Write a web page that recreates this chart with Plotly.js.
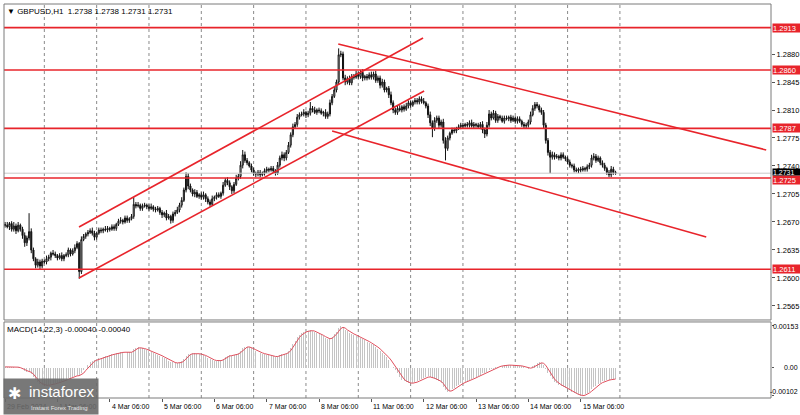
<!DOCTYPE html>
<html><head><meta charset="utf-8">
<script src="https://cdn.plot.ly/plotly-3.0.1.min.js"></script>
<style>html,body{margin:0;padding:0;background:#fff}#chart{width:800px;height:415px}</style>
</head><body><div id="chart"></div>
<script>
// Price data: closes in pips above 1.2600, hourly bars from 29 Feb 06:00
const BASE = 1.26;
const closePips = [
66,64,68,61,65,59,66,61,53,44,
50,58,35,24,16,20,15,21,20,24,
26,31,30,28,25,28,24,28,29,35,
30,34,38,43,8,48,52,55,57,59,
56,51,56,60,59,61,60,62,61,64,
62,67,71,72,70,75,72,74,77,92,
90,91,87,90,91,89,87,89,86,85,
87,82,79,81,75,77,72,80,82,85,
91,97,110,127,115,110,105,107,102,104,
101,104,99,95,92,99,101,104,102,106,
116,122,119,114,109,117,125,127,141,154,
147,144,140,135,131,130,132,129,131,134,
136,135,137,134,131,141,150,154,150,157,
166,179,189,192,201,204,205,207,204,206,
212,210,207,210,209,206,207,202,205,219,
227,235,245,279,280,250,245,249,244,252,
251,255,252,257,250,252,250,254,251,255,
247,250,241,245,235,237,229,219,210,207,
212,210,214,211,215,219,216,220,222,220,
224,221,219,215,204,194,187,197,200,191,
195,172,162,175,181,185,184,187,189,191,
190,192,191,194,190,192,191,189,192,185,
180,191,205,200,206,197,202,200,196,200,
199,201,197,200,196,199,196,192,190,191,
195,204,212,217,215,210,207,191,172,157,
151,154,151,152,150,154,151,149,145,141,
140,135,134,136,135,137,136,139,141,150,
152,147,150,144,141,137,132,129,136,132,
131];
const firstOpenPips = 67;
const hiWick = [
3,4,2,3,5,3,4,2,3,4, 3,23,4,3,2,4,3,3,2,4, 3,2,4,3,2,3,4,2,3,3, 2,3,4,3,2,4,3,2,3,3,
4,3,2,3,3,2,4,3,2,3, 3,2,3,4,2,3,3,2,3,9, 3,4,2,3,3,2,3,4,2,3, 3,2,3,2,4,3,2,3,3,4,
3,4,3,5,4,3,2,4,3,2, 3,4,2,3,3,4,2,3,3,2, 4,3,4,3,2,3,4,3,5,6, 4,3,2,3,3,2,3,3,2,3,
3,2,3,3,2,4,3,4,3,3, 4,3,4,3,4,3,3,4,2,3, 8,3,4,2,3,3,2,4,3,4, 3,4,3,8,4,3,4,3,4,3,
3,4,3,3,4,2,3,3,4,3, 4,3,3,4,3,2,3,4,3,3, 3,4,2,3,4,3,3,2,3,3, 3,3,4,2,3,4,3,4,3,3,
3,4,4,3,2,3,3,2,3,3, 3,2,3,3,4,3,2,3,3,4, 3,4,5,3,4,3,3,2,3,3, 3,2,3,3,2,3,3,2,3,3,
3,4,4,3,3,2,3,3,3,3, 3,4,3,3,2,3,3,2,3,3, 2,3,3,2,3,3,2,3,3,4, 4,3,3,2,3,3,2,3,4,3,
2];
const loWick = [
3,2,4,3,3,4,2,3,4,5, 4,3,4,3,4,3,4,3,2,3, 3,4,2,3,3,2,3,3,2,3, 3,2,3,2,9,3,2,3,3,2,
3,4,3,2,3,3,2,3,3,2, 3,3,2,3,3,2,3,3,2,3, 3,2,3,3,2,3,3,2,3,3, 2,3,4,3,3,2,4,3,3,2,
3,3,2,3,4,3,3,4,2,3, 3,3,4,3,3,2,3,3,2,3, 3,2,3,4,4,3,2,3,3,4, 3,3,2,3,3,4,3,3,2,3,
3,3,2,3,3,2,3,3,4,3, 2,3,3,2,3,3,2,3,4,3, 3,3,2,3,3,2,4,3,3,3, 3,2,3,3,3,3,4,3,3,3,
3,2,3,3,4,3,3,2,3,3, 3,3,4,3,3,3,4,3,4,3, 3,2,3,3,2,3,3,2,3,3, 3,3,2,3,4,4,11,3,3,4,
3,4,15,3,3,2,3,3,2,3, 3,2,3,3,2,3,3,2,3,4, 5,3,3,3,2,3,3,3,2,3, 2,3,3,2,3,3,2,3,3,3,
3,3,2,3,3,3,3,4,4,4, 20,3,3,2,3,3,2,3,3,3, 3,3,2,3,3,2,3,3,3,3, 3,3,2,3,3,3,3,3,3,3,
2];
// MACD main (histogram), in units of 0.00001
const macdMain = [
4,4,5,3,4,2,3,-1,-5,-11,
-13,-12,-22,-33,-45,-52,-58,-61,-63,-64,
-62,-60,-58,-56,-54,-51,-48,-45,-42,-37,
-35,-32,-29,-25,-30,-18,-9,0,10,20,
26,28,31,35,38,41,43,45,47,50,
52,54,56,57,57,58,57,57,58,68,
73,75,73,71,68,65,62,60,56,52,
49,45,40,36,31,27,22,20,18,17,
19,24,33,45,50,52,53,53,52,51,
49,46,42,37,32,29,27,26,26,28,
34,41,44,46,45,47,50,55,63,73,
77,78,75,71,66,62,58,55,52,50,
48,46,44,42,40,43,48,51,52,53,
62,74,88,100,112,121,127,131,134,136,
137,135,131,127,123,119,115,108,104,107,
114,122,132,146,153,145,138,133,128,124,
120,117,113,110,106,101,96,92,87,82,
76,70,63,55,47,39,30,18,5,-8,
-20,-32,-42,-48,-52,-55,-56,-55,-52,-48,
-44,-40,-36,-33,-31,-34,-38,-40,-44,-48,
-54,-68,-82,-87,-84,-78,-72,-67,-61,-56,
-53,-50,-47,-44,-40,-36,-32,-28,-24,-20,
-17,-14,-8,-4,-2,2,5,8,9,10,
10,11,10,10,9,9,8,6,3,0,
-2,0,6,12,17,20,19,12,-2,-18,
-30,-40,-50,-56,-61,-65,-69,-73,-77,-82,
-87,-92,-96,-100,-102,-100,-96,-91,-86,-78,
-70,-64,-58,-53,-49,-46,-44,-43,-41,-40,
-40];
const signalPeriod = 3;

const dayStarts = [18,42,66,90,114,138,162,186,210,234,258,282];
const timeTickIdx = [0,24,48,72,96,120,144,168,192,216,240,264];
const timeTickText = ['29 Feb 2024','1 Mar 06:00','4 Mar 06:00','5 Mar 06:00','6 Mar 06:00','7 Mar 06:00','8 Mar 06:00','11 Mar 06:00','12 Mar 06:00','13 Mar 06:00','14 Mar 06:00','15 Mar 06:00'];
const priceTicks = [1.2565,1.2600,1.2635,1.2670,1.2705,1.2740,1.2775,1.2810,1.2845,1.2880];
const levels = [1.2913,1.2860,1.2787,1.2725,1.2611];
const lastPrice = 1.2731;
const titleText = '\u25BC GBPUSD,H1  1.2738 1.2738 1.2731 1.2731';
const macdLabel = 'MACD(14,22,3) -0.00040 -0.00040';
const macdTicks = [0.00153, 0, -0.00102];
const macdTickText = ['0.00153','0.00','-0.00102'];
// trend lines: [barIndex0, price0, barIndex1, price1]
const channelLow  = [33.9, 1.26000, 192.2, 1.28338];
const channelHigh = [33.9, 1.26638, 191.7, 1.29000];
const downHigh    = [152.8, 1.28925, 349.1, 1.27600];
const downLow     = [150.0, 1.27838, 321.6, 1.26513];
const trendLines = [channelLow, channelHigh, downHigh, downLow];

const FONT = 'Liberation Sans, Arial, sans-serif';
const n = closePips.length;
const idx = [], o = [], h = [], l = [], c = [];
for (let i = 0; i < n; i++) {
  const op = i === 0 ? firstOpenPips : closePips[i-1];
  const cp = closePips[i];
  idx.push(i);
  o.push(BASE + op/10000);
  c.push(BASE + cp/10000);
  h.push(BASE + (Math.max(op,cp) + hiWick[i])/10000);
  l.push(BASE + (Math.min(op,cp) - loWick[i])/10000);
}
const main = macdMain.map(v => v/100000);
const sig = main.map((v,i) => {
  const k = Math.max(0, i-signalPeriod+1);
  let s = 0; for (let j = k; j <= i; j++) s += main[j];
  return s/(i-k+1);
});

const traces = [
  {type:'candlestick', x:idx, open:o, high:h, low:l, close:c, xaxis:'x', yaxis:'y',
   increasing:{line:{color:'#111',width:1}, fillcolor:'#ffffff'},
   decreasing:{line:{color:'#111',width:1}, fillcolor:'#111111'},
   whiskerwidth:0, hoverinfo:'skip'},
  {type:'bar', x:idx, y:main, xaxis:'x', yaxis:'y2', width:0.45,
   marker:{color:'#c4c4c4', line:{width:0}}, hoverinfo:'skip'},
  {type:'scatter', mode:'lines', x:idx, y:sig, xaxis:'x', yaxis:'y2',
   line:{color:'#e0505e', width:1}, hoverinfo:'skip'}
];

const shapes = [];
dayStarts.forEach(d => shapes.push({type:'line', xref:'x', yref:'paper', x0:d, x1:d, y0:0, y1:1,
  line:{color:'#8a8a8a', width:1, dash:'dot'}, layer:'below'}));
shapes.push({type:'line', xref:'paper', yref:'y', x0:0, x1:1, y0:lastPrice, y1:lastPrice, line:{color:'#c8c8c8', width:1}});
levels.forEach(v => shapes.push({type:'line', xref:'paper', yref:'y', x0:0, x1:1, y0:v, y1:v, line:{color:'#e8242b', width:1.6}}));
trendLines.forEach(t => shapes.push({type:'line', xref:'x', yref:'y', x0:t[0], y0:t[1], x1:t[2], y1:t[3], line:{color:'#e8242b', width:1.6}}));
shapes.push({type:'rect', xref:'paper', yref:'paper', x0:0, x1:1, y0:0.198, y1:1, line:{color:'#7a7a7a', width:1}});
shapes.push({type:'rect', xref:'paper', yref:'paper', x0:0, x1:1, y0:0, y1:0.193, line:{color:'#7a7a7a', width:1}});

const annotations = [];
annotations.push({xref:'paper', yref:'paper', x:0.0015, y:1, xanchor:'left', yanchor:'top', yshift:-1,
  text:titleText, showarrow:false, font:{family:FONT, size:8, color:'#000'}});
annotations.push({xref:'paper', yref:'paper', x:0.0015, y:0.193, xanchor:'left', yanchor:'top', yshift:-1,
  text:macdLabel, showarrow:false, font:{family:FONT, size:8, color:'#000'}});
levels.forEach(v => annotations.push({xref:'paper', yref:'y', x:1, y:v, xanchor:'left', yanchor:'middle', xshift:1,
  yshift: v === 1.2725 ? -2 : 0,
  text:v.toFixed(4), showarrow:false, bgcolor:'#e8242b', width:28, height:8, borderpad:0, align:'left',
  font:{family:FONT, size:7.5, color:'#fff'}}));
annotations.push({xref:'paper', yref:'y', x:1, y:lastPrice, xanchor:'left', yanchor:'middle', xshift:1, yshift:1.5,
  text:lastPrice.toFixed(4), showarrow:false, bgcolor:'#000', width:28, height:6, borderpad:0, align:'left',
  font:{family:FONT, size:7, color:'#fff'}});
macdTicks.forEach((v,k) => annotations.push({xref:'paper', yref:'y2', x:1.0378, y:v, xanchor:'right', yanchor:'middle',
  yshift: k === 2 ? 4 : (k === 0 ? -1 : 0),
  text:macdTickText[k], showarrow:false, font:{family:FONT, size:7, color:'#000'}}));
timeTickIdx.forEach((t, k) => annotations.push({xref:'x', yref:'paper', x:t, y:0, xanchor:'left', yanchor:'top', yshift:-3,
  text:timeTickText[k], showarrow:false, font:{family:FONT, size:7, color:'#000'}}));
// logo (drawn last so it covers the labels underneath, as in the reference)
annotations.push({xref:'paper', yref:'paper', x:-0.0013, y:0.0508, xanchor:'left', yanchor:'top',
  text:' ', showarrow:false, bgcolor:'rgba(105,105,105,0.9)', width:94, height:35, borderpad:0});
annotations.push({xref:'paper', yref:'paper', x:0.003, y:0.012, xanchor:'left', yanchor:'middle',
  text:'\u2731', showarrow:false, font:{family:FONT, size:16, color:'#fff'}});
annotations.push({xref:'paper', yref:'paper', x:0.03, y:0.016, xanchor:'left', yanchor:'middle',
  text:'instaforex', showarrow:false, font:{family:FONT, size:15, color:'#fff'}});
annotations.push({xref:'paper', yref:'paper', x:0.032, y:-0.026, xanchor:'left', yanchor:'middle',
  text:'Instant Forex Trading', showarrow:false, font:{family:FONT, size:6, color:'#e6e6e6'}});

const layout = {
  width:800, height:415, margin:{l:4, r:29, t:4, b:17},
  paper_bgcolor:'#fff', plot_bgcolor:'#fff', showlegend:false,
  font:{family:FONT, size:7.5, color:'#000'},
  xaxis:{range:[-0.5, 351.3], anchor:'y2', showgrid:false, zeroline:false, showline:false,
    tickvals:timeTickIdx, ticks:'outside', ticklen:3, tickcolor:'#555', showticklabels:false,
    rangeslider:{visible:false}, fixedrange:true},
  yaxis:{domain:[0.198,1], range:[1.25475,1.29425], side:'right', anchor:'x',
    tickvals:priceTicks, ticktext:priceTicks.map(v=>v.toFixed(4)), ticks:'outside', ticklen:3, tickcolor:'#555',
    showgrid:false, zeroline:false, tickfont:{family:FONT, size:7.5, color:'#000'}},
  yaxis2:{domain:[0,0.193], range:[-0.001093,0.001676], side:'right', anchor:'x',
    tickvals:macdTicks, ticks:'outside', ticklen:2, tickcolor:'#555', showticklabels:false,
    showgrid:false, zeroline:false},
  shapes:shapes, annotations:annotations, bargap:0
};
Plotly.newPlot('chart', traces, layout, {staticPlot:true, displayModeBar:false});
</script></body></html>
